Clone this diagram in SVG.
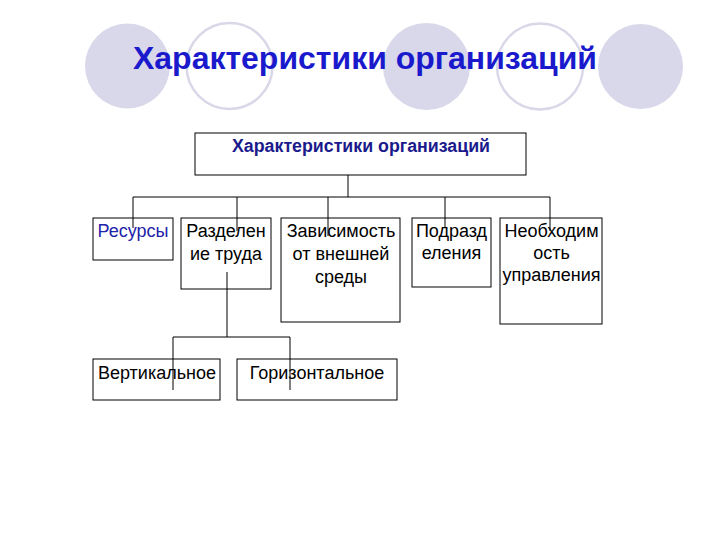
<svg xmlns="http://www.w3.org/2000/svg" width="720" height="540" viewBox="0 0 720 540">
<style>
.bg{fill:#d8d8ea}
.ring{fill:none;stroke:#d8d8e8;stroke-width:2.5}
.box{fill:none;stroke:#000;stroke-width:1}
.t{font-family:"Liberation Sans",Arial,sans-serif;font-size:18px;fill:#000;text-anchor:middle}
.c{stroke:#000;stroke-width:1;fill:none}
</style>
<rect width="720" height="540" fill="#fff"/>
<g id="decor">
<circle class="bg" cx="127.5" cy="66" r="42.5"/>
<circle class="ring" cx="229.5" cy="66" r="43"/>
<circle class="bg" cx="426.5" cy="66.5" r="43.5"/>
<circle class="ring" cx="540" cy="66.5" r="43"/>
<circle class="bg" cx="640.5" cy="66.5" r="42.5"/>
</g>
<text id="title" x="365" y="69" font-family="Liberation Sans,Arial,sans-serif" font-size="32" font-weight="bold" fill="#1a1acc" text-anchor="middle" textLength="464" lengthAdjust="spacingAndGlyphs">Характеристики организаций</text>
<g id="n-root"><rect class="box" x="195" y="133" width="331" height="42"/><text x="361" y="152" font-family="Liberation Sans,Arial,sans-serif" font-size="17.5" font-weight="bold" fill="#1a1a8c" text-anchor="middle" textLength="258" lengthAdjust="spacingAndGlyphs">Характеристики организаций</text></g>
<g id="n-res"><rect class="box" x="93" y="218" width="80" height="42"/><text class="t" x="133" y="237" style="fill:#2222aa">Ресурсы</text></g>
<g id="n-razd"><rect class="box" x="181" y="218" width="90" height="71"/><text class="t" x="226" y="237">Разделен</text><text class="t" x="226" y="260">ие труда</text></g>
<g id="n-zav"><rect class="box" x="281" y="218" width="119" height="104"/><text class="t" x="341" y="237">Зависимость</text><text class="t" x="341" y="260">от внешней</text><text class="t" x="341" y="283">среды</text></g>
<g id="n-podr"><rect class="box" x="412" y="218" width="79" height="69"/><text class="t" x="451.5" y="237">Подразд</text><text class="t" x="451.5" y="259">еления</text></g>
<g id="n-neob"><rect class="box" x="500" y="218" width="102" height="106"/><text class="t" x="551.5" y="237">Необходим</text><text class="t" x="551.5" y="259">ость</text><text class="t" x="551.5" y="281">управления</text></g>
<g id="n-vert"><rect class="box" x="93" y="359" width="127" height="41"/><text class="t" x="157" y="379">Вертикальное</text></g>
<g id="n-gor"><rect class="box" x="237" y="359" width="160" height="41"/><text class="t" x="317" y="379">Горизонтальное</text></g>
<g id="connectors">
<path class="c" d="M348 175V197M133 197H550M133 197V228M237 197V231M328 197V236M445 197V228M550 197V231"/>
<path class="c" d="M227 272V337M173 337H290M173 337V390M290 337V390"/>
</g>
</svg>
